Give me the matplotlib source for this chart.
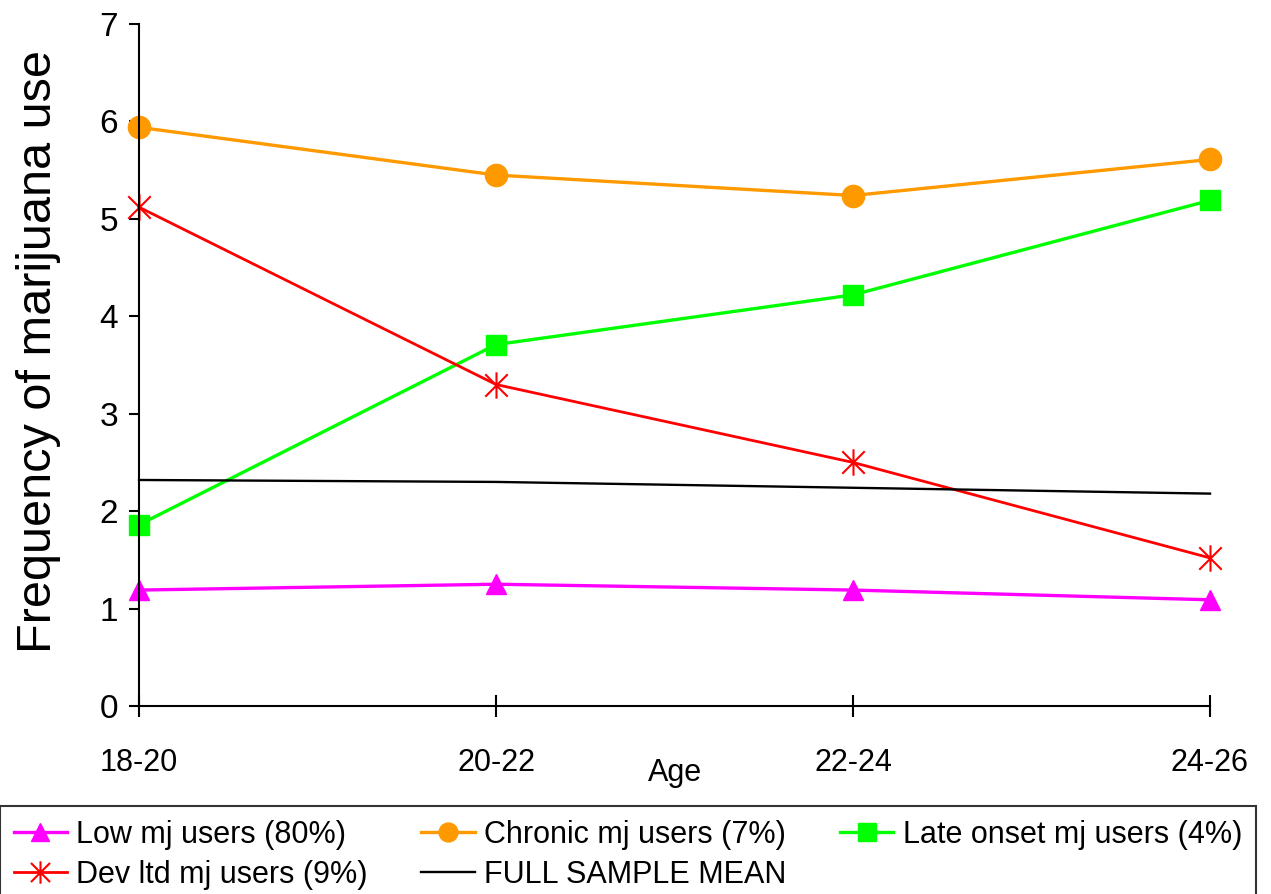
import matplotlib.pyplot as plt
from matplotlib.path import Path

plt.rcParams['font.family'] = ['Liberation Sans', 'DejaVu Sans']

ages = ['18-20', '20-22', '22-24', '24-26']
low_mj = [1.19, 1.25, 1.19, 1.09]
chronic_mj = [5.94, 5.45, 5.24, 5.61]
late_onset_mj = [1.86, 3.71, 4.22, 5.19]
dev_ltd_mj = [5.12, 3.30, 2.50, 1.52]
full_mean = [2.32, 2.30, 2.24, 2.18]

# asterisk marker: X plus a vertical bar
star = Path([(0, -1), (0, 1), (-0.85, -0.85), (0.85, 0.85), (-0.85, 0.85), (0.85, -0.85)],
            [Path.MOVETO, Path.LINETO, Path.MOVETO, Path.LINETO, Path.MOVETO, Path.LINETO])

fig = plt.figure(figsize=(12.71, 8.94), dpi=100)
ax = fig.add_axes([0.1094, 0.2103, 0.8426, 0.7628])
x = range(len(ages))

l_low, = ax.plot(x, low_mj, color='#FF00FF', lw=2.4, marker='^', ms=15, clip_on=False,
                 label='Low mj users (80%)')
l_chr, = ax.plot(x, chronic_mj, color='#FF9900', lw=2.4, marker='o', ms=16, clip_on=False,
                 label='Chronic mj users (7%)')
l_late, = ax.plot(x, late_onset_mj, color='#00FF00', lw=2.4, marker='s', ms=15, clip_on=False,
                  label='Late onset mj users (4%)')
l_dev, = ax.plot(x, dev_ltd_mj, color='#FF0000', lw=2.0, marker=star, ms=19, mew=1.5, clip_on=False,
                 label='Dev ltd mj users (9%)')
l_mean, = ax.plot(x, full_mean, color='black', lw=1.7, clip_on=False, label='FULL SAMPLE MEAN')

ax.set_xlim(0, 3)
ax.set_ylim(0, 7)
ax.set_xticks(list(x))
ax.set_xticklabels(ages)
ax.set_yticks(range(8))
ax.spines['top'].set_visible(False)
ax.spines['right'].set_visible(False)
ax.spines['left'].set_linewidth(1.5)
ax.spines['bottom'].set_linewidth(1.5)
ax.tick_params(axis='x', direction='inout', length=16, width=1.5, pad=22, labelsize=22)
ax.tick_params(axis='y', direction='out', length=7, width=1.5, pad=8, labelsize=24)

ax.set_ylabel('Frequency of marijuana use', fontsize=35)
ax.yaxis.set_label_coords(-0.073, 0.52)
ax.set_xlabel('Age', fontsize=22, labelpad=-14)

# column-major fill -> rows: Low, Chronic, Late / Dev, Mean
handles = [l_low, l_dev, l_chr, l_mean, l_late]
leg = fig.legend(handles=handles, labels=[h.get_label() for h in handles],
                 loc='upper left', bbox_to_anchor=(0.0, 0.0, 0.988, 0.0984), mode='expand',
                 ncol=3, fontsize=22, frameon=True, fancybox=False, edgecolor='black',
                 handlelength=1.75, handletextpad=0.3, borderaxespad=0.0, borderpad=0.45,
                 labelspacing=0.33, columnspacing=1.0, markerscale=0.85)
leg.get_frame().set_linewidth(1.5)

fig.savefig('out.png', dpi=100)
